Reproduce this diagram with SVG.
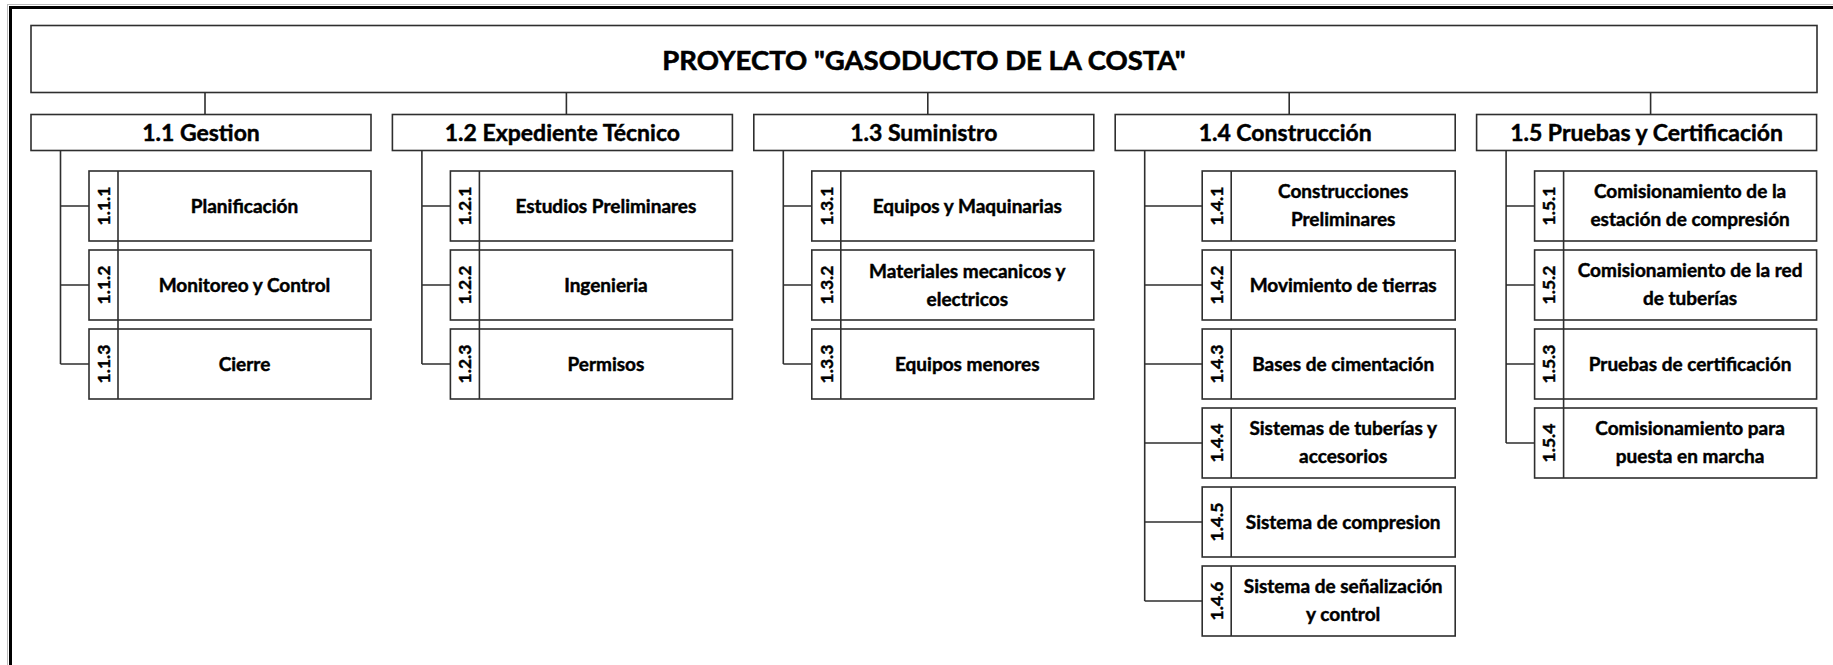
<svg xmlns="http://www.w3.org/2000/svg" width="1833" height="665" viewBox="0 0 1833 665">
<style>
.box{fill:#fff;stroke:#2e2e2e;stroke-width:1.6}
.ln{fill:none;stroke:#2e2e2e;stroke-width:1.6}
.t{font-family:Lato,"Liberation Sans",sans-serif;font-weight:bold;fill:#000;stroke:#000;stroke-width:0.45;text-anchor:middle}
.title{font-size:27.5px;stroke-width:0.6}
.l2{font-size:23px}
.c{font-size:19px}
.n{font-size:17.5px}
</style>
<rect x="0" y="0" width="1833" height="665" fill="#fff"/>
<rect x="10.5" y="7.5" width="1900" height="700" fill="none" stroke="#000" stroke-width="3"/>
<line x1="7" y1="4.5" x2="1833" y2="4.5" stroke="#bbb" stroke-width="1"/>
<line x1="7.5" y1="4.5" x2="7.5" y2="665" stroke="#bbb" stroke-width="1"/>

<g id="connectors">
<path class="ln" d="M205,92.5V114.5 M566.4,92.5V114.5 M927.8,92.5V114.5 M1289.2,92.5V114.5 M1650.6,92.5V114.5"/>
<path class="ln" d="M60.5,150.5V364 M60.5,206H89 M60.5,285H89 M60.5,364H89"/>
<path class="ln" d="M421.9,150.5V364 M421.9,206H450.4 M421.9,285H450.4 M421.9,364H450.4"/>
<path class="ln" d="M783.3,150.5V364 M783.3,206H811.8 M783.3,285H811.8 M783.3,364H811.8"/>
<path class="ln" d="M1144.7,150.5V601 M1144.7,206H1202.2 M1144.7,285H1202.2 M1144.7,364H1202.2 M1144.7,443H1202.2 M1144.7,522H1202.2 M1144.7,601H1202.2"/>
<path class="ln" d="M1506.1,150.5V443 M1506.1,206H1534.6 M1506.1,285H1534.6 M1506.1,364H1534.6 M1506.1,443H1534.6"/>
</g>

<g id="root">
<rect class="box" x="31" y="25.5" width="1786" height="67"/>
<text class="t title" x="924" y="69.5">PROYECTO "GASODUCTO DE LA COSTA"</text>
</g>

<g id="n1_1">
<rect class="box" x="31" y="114.5" width="340" height="36"/>
<text class="t l2" x="201" y="141">1.1 Gestion</text>
</g>
<g id="n1_2">
<rect class="box" x="392.4" y="114.5" width="340" height="36"/>
<text class="t l2" x="562.4" y="141">1.2 Expediente Técnico</text>
</g>
<g id="n1_3">
<rect class="box" x="753.8" y="114.5" width="340" height="36"/>
<text class="t l2" x="923.8" y="141">1.3 Suministro</text>
</g>
<g id="n1_4">
<rect class="box" x="1115.2" y="114.5" width="340" height="36"/>
<text class="t l2" x="1285.2" y="141">1.4 Construcción</text>
</g>
<g id="n1_5">
<rect class="box" x="1476.6" y="114.5" width="340" height="36"/>
<text class="t l2" x="1646.6" y="141">1.5 Pruebas y Certificación</text>
</g>

<!-- 1.1 children -->
<g id="n1_1_1">
<rect class="box" x="89" y="171" width="282" height="70"/>
<text class="t n" transform="translate(103.5,206) rotate(-90)" dy="0.36em">1.1.1</text>
<text class="t c" x="244.5" y="212.5">Planificación</text>
</g>
<g id="n1_1_2">
<rect class="box" x="89" y="250" width="282" height="70"/>
<text class="t n" transform="translate(103.5,285) rotate(-90)" dy="0.36em">1.1.2</text>
<text class="t c" x="244.5" y="291.5">Monitoreo y Control</text>
</g>
<g id="n1_1_3">
<rect class="box" x="89" y="329" width="282" height="70"/>
<text class="t n" transform="translate(103.5,364) rotate(-90)" dy="0.36em">1.1.3</text>
<text class="t c" x="244.5" y="370.5">Cierre</text>
</g>
<line class="ln" x1="118" y1="171" x2="118" y2="399"/>

<!-- 1.2 children -->
<g id="n1_2_1">
<rect class="box" x="450.4" y="171" width="282" height="70"/>
<text class="t n" transform="translate(464.9,206) rotate(-90)" dy="0.36em">1.2.1</text>
<text class="t c" x="605.9" y="212.5">Estudios Preliminares</text>
</g>
<g id="n1_2_2">
<rect class="box" x="450.4" y="250" width="282" height="70"/>
<text class="t n" transform="translate(464.9,285) rotate(-90)" dy="0.36em">1.2.2</text>
<text class="t c" x="605.9" y="291.5">Ingenieria</text>
</g>
<g id="n1_2_3">
<rect class="box" x="450.4" y="329" width="282" height="70"/>
<text class="t n" transform="translate(464.9,364) rotate(-90)" dy="0.36em">1.2.3</text>
<text class="t c" x="605.9" y="370.5">Permisos</text>
</g>
<line class="ln" x1="479.4" y1="171" x2="479.4" y2="399"/>

<!-- 1.3 children -->
<g id="n1_3_1">
<rect class="box" x="811.8" y="171" width="282" height="70"/>
<text class="t n" transform="translate(826.3,206) rotate(-90)" dy="0.36em">1.3.1</text>
<text class="t c" x="967.3" y="212.5">Equipos y Maquinarias</text>
</g>
<g id="n1_3_2">
<rect class="box" x="811.8" y="250" width="282" height="70"/>
<text class="t n" transform="translate(826.3,285) rotate(-90)" dy="0.36em">1.3.2</text>
<text class="t c" x="967.3" y="278">Materiales mecanicos y</text>
<text class="t c" x="967.3" y="305.5">electricos</text>
</g>
<g id="n1_3_3">
<rect class="box" x="811.8" y="329" width="282" height="70"/>
<text class="t n" transform="translate(826.3,364) rotate(-90)" dy="0.36em">1.3.3</text>
<text class="t c" x="967.3" y="370.5">Equipos menores</text>
</g>
<line class="ln" x1="840.8" y1="171" x2="840.8" y2="399"/>

<!-- 1.4 children -->
<g id="n1_4_1">
<rect class="box" x="1202.2" y="171" width="253" height="70"/>
<line class="ln" x1="1231.2" y1="171" x2="1231.2" y2="241"/>
<text class="t n" transform="translate(1216.7,206) rotate(-90)" dy="0.36em">1.4.1</text>
<text class="t c" x="1343.2" y="198">Construcciones</text>
<text class="t c" x="1343.2" y="225.5">Preliminares</text>
</g>
<g id="n1_4_2">
<rect class="box" x="1202.2" y="250" width="253" height="70"/>
<line class="ln" x1="1231.2" y1="250" x2="1231.2" y2="320"/>
<text class="t n" transform="translate(1216.7,285) rotate(-90)" dy="0.36em">1.4.2</text>
<text class="t c" x="1343.2" y="291.5">Movimiento de tierras</text>
</g>
<g id="n1_4_3">
<rect class="box" x="1202.2" y="329" width="253" height="70"/>
<line class="ln" x1="1231.2" y1="329" x2="1231.2" y2="399"/>
<text class="t n" transform="translate(1216.7,364) rotate(-90)" dy="0.36em">1.4.3</text>
<text class="t c" x="1343.2" y="370.5">Bases de cimentación</text>
</g>
<g id="n1_4_4">
<rect class="box" x="1202.2" y="408" width="253" height="70"/>
<line class="ln" x1="1231.2" y1="408" x2="1231.2" y2="478"/>
<text class="t n" transform="translate(1216.7,443) rotate(-90)" dy="0.36em">1.4.4</text>
<text class="t c" x="1343.2" y="435">Sistemas de tuberías y</text>
<text class="t c" x="1343.2" y="462.5">accesorios</text>
</g>
<g id="n1_4_5">
<rect class="box" x="1202.2" y="487" width="253" height="70"/>
<line class="ln" x1="1231.2" y1="487" x2="1231.2" y2="557"/>
<text class="t n" transform="translate(1216.7,522) rotate(-90)" dy="0.36em">1.4.5</text>
<text class="t c" x="1343.2" y="528.5">Sistema de compresion</text>
</g>
<g id="n1_4_6">
<rect class="box" x="1202.2" y="566" width="253" height="70"/>
<line class="ln" x1="1231.2" y1="566" x2="1231.2" y2="636"/>
<text class="t n" transform="translate(1216.7,601) rotate(-90)" dy="0.36em">1.4.6</text>
<text class="t c" x="1343.2" y="593">Sistema de señalización</text>
<text class="t c" x="1343.2" y="620.5">y control</text>
</g>

<!-- 1.5 children -->
<g id="n1_5_1">
<rect class="box" x="1534.6" y="171" width="282" height="70"/>
<text class="t n" transform="translate(1549.1,206) rotate(-90)" dy="0.36em">1.5.1</text>
<text class="t c" x="1690.1" y="198">Comisionamiento de la</text>
<text class="t c" x="1690.1" y="225.5">estación de compresión</text>
</g>
<g id="n1_5_2">
<rect class="box" x="1534.6" y="250" width="282" height="70"/>
<text class="t n" transform="translate(1549.1,285) rotate(-90)" dy="0.36em">1.5.2</text>
<text class="t c" x="1690.1" y="277">Comisionamiento de la red</text>
<text class="t c" x="1690.1" y="304.5">de tuberías</text>
</g>
<g id="n1_5_3">
<rect class="box" x="1534.6" y="329" width="282" height="70"/>
<text class="t n" transform="translate(1549.1,364) rotate(-90)" dy="0.36em">1.5.3</text>
<text class="t c" x="1690.1" y="370.5">Pruebas de certificación</text>
</g>
<g id="n1_5_4">
<rect class="box" x="1534.6" y="408" width="282" height="70"/>
<text class="t n" transform="translate(1549.1,443) rotate(-90)" dy="0.36em">1.5.4</text>
<text class="t c" x="1690.1" y="435">Comisionamiento para</text>
<text class="t c" x="1690.1" y="462.5">puesta en marcha</text>
</g>
<line class="ln" x1="1563.6" y1="171" x2="1563.6" y2="478"/>
</svg>
